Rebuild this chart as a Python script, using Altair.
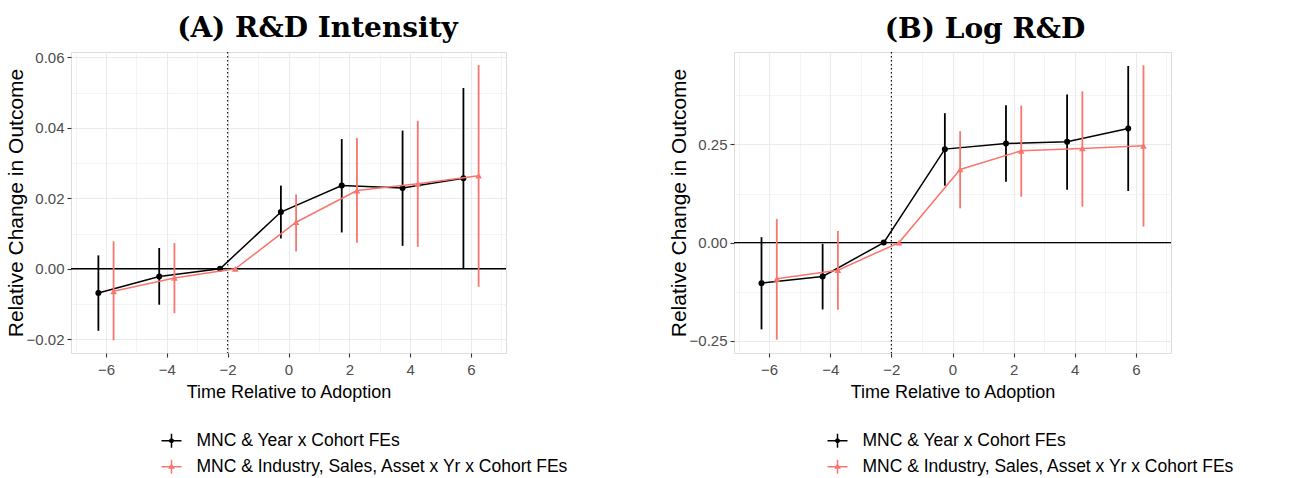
import altair as alt
import pandas as pd

# ---------------- data ----------------
times = [-6, -4, -2, 0, 2, 4, 6]
series_names = ["MNC & Year x Cohort FEs",
                "MNC & Industry, Sales, Asset x Yr x Cohort FEs"]
series_colors = ["#000000", "#F8766D"]

# Panel A: R&D Intensity
a_est_1 = [-0.0069, -0.0022, 0.0, 0.0161, 0.0236, 0.0229, 0.0257]
a_lo_1 = [-0.0176, -0.0102, 0.0, 0.0086, 0.0103, 0.0065, 0.0001]
a_hi_1 = [0.0038, 0.0059, 0.0, 0.0236, 0.0368, 0.0392, 0.0513]
a_est_2 = [-0.0064, -0.0026, 0.0, 0.0132, 0.0222, 0.0241, 0.0264]
a_lo_2 = [-0.0203, -0.0126, 0.0, 0.0049, 0.0074, 0.0062, -0.0051]
a_hi_2 = [0.0078, 0.0073, 0.0, 0.0211, 0.0371, 0.0420, 0.0578]

# Panel B: Log R&D
b_est_1 = [-0.1034, -0.0864, 0.0, 0.2381, 0.2525, 0.2568, 0.2907]
b_lo_1 = [-0.2212, -0.1703, 0.0, 0.1449, 0.1551, 0.1347, 0.1314]
b_hi_1 = [0.0136, -0.0034, 0.0, 0.3297, 0.3500, 0.3771, 0.4500]
b_est_2 = [-0.0924, -0.0703, 0.0, 0.1864, 0.2339, 0.2398, 0.2466]
b_lo_2 = [-0.2475, -0.1712, 0.0, 0.0873, 0.1169, 0.0915, 0.0407]
b_hi_2 = [0.0602, 0.0297, 0.0, 0.2839, 0.3492, 0.3856, 0.4517]

# axis ticks
x_major = [-6, -4, -2, 0, 2, 4, 6]
x_minor = [-7, -5, -3, -1, 1, 3, 5, 7]
a_y_major = [-0.02, 0.0, 0.02, 0.04, 0.06]
a_y_minor = [-0.01, 0.01, 0.03, 0.05]
b_y_major = [-0.25, 0.0, 0.25]
b_y_minor = [-0.125, 0.125, 0.375]

ref_zero = 0.0
ref_adopt = -2

# ---------------- styling ----------------
DODGE = [-0.25, 0.25]
X_DOMAIN = [-7.15, 7.15]
A_Y_DOMAIN = [-0.0239, 0.0615]
B_Y_DOMAIN = [-0.2814, 0.4856]
GRID = "#EBEBEB"
DARK = "#333333"
TICK_LABEL = "#4D4D4D"
SANS = "Liberation Sans"

SHAPE_PATHS = [
    "M-1,0L1,0M0,-0.7L0,0.7M0.17,0A0.17,0.17,0,1,1,-0.17,0A0.17,0.17,0,1,1,0.17,0Z",
    "M-1,0L1,0M0,-0.7L0,0.7M0,-0.22L0.2,0.14L-0.2,0.14Z",
]


def make_df(ests, los, his):
    rows = []
    for k, (est, lo, hi) in enumerate(zip(ests, los, his)):
        for t, e, l, h in zip(times, est, lo, hi):
            rows.append({"t": t, "x": t + DODGE[k], "est": e, "lo": l, "hi": h,
                         "series": series_names[k]})
    return pd.DataFrame(rows)


def cond(major, on, off):
    test = "indexof(%s, datum.value) >= 0" % str(list(major))
    return {"condition": {"test": test, "value": on}, "value": off}


def make_axis(major, minor, title, fmt, is_x):
    test = "indexof(%s, datum.value) >= 0" % str(list(major))
    kw = dict(
        values=sorted(list(major) + list(minor)),
        labelExpr="%s ? datum.label : ''" % test,
        format=fmt,
        title=title,
        grid=True,
        gridColor=GRID,
        gridWidth=cond(major, 1.1, 0.55),
        tickOpacity=cond(major, 1, 0),
        tickColor=DARK,
        tickSize=4,
        tickWidth=1.1,
        domain=False,
        labelOverlap=False,
        labelFlush=False,
        labelColor=TICK_LABEL,
        labelFont=SANS,
        labelFontSize=15,
        titleColor="black",
        titleFontWeight="normal",
        titleFont=SANS,
    )
    if is_x:
        kw.update(labelPadding=5, titleFontSize=18, titlePadding=6)
    else:
        kw.update(labelPadding=3, titleFontSize=21, titlePadding=0)
    return alt.Axis(**kw)


def legend(legend_x):
    return alt.Legend(title=None, orient="none",
                      legendX=legend_x, legendY=377.7,
                      symbolSize=400, symbolStrokeWidth=1.5,
                      symbolOpacity=1,
                      labelFont=SANS, labelFontSize=17.5,
                      labelColor="black", labelOffset=14,
                      rowPadding=5, padding=0, labelLimit=600)


def panel(df, title, title_dx, ydom, ymaj, ymin, width, legend_x):
    xs = alt.Scale(domain=X_DOMAIN, nice=False, zero=False)
    ys = alt.Scale(domain=ydom, nice=False, zero=False)
    xaxis = make_axis(x_major, x_minor, "Time Relative to Adoption", "d", True)
    yaxis = make_axis(ymaj, ymin, "Relative Change in Outcome", ".2f", False)

    base = alt.Chart(df)
    X = alt.X("x:Q", scale=xs, axis=xaxis)

    layers = []
    layers.append(
        alt.Chart(pd.DataFrame({"v": [ref_adopt]})).mark_rule(
            color="black", strokeWidth=1.1, strokeDash=[1.5, 2.5]
        ).encode(x=alt.X("v:Q", scale=xs, axis=xaxis))
    )
    layers.append(
        alt.Chart(pd.DataFrame({"v": [ref_zero]})).mark_rule(
            color="black", strokeWidth=1.3
        ).encode(y=alt.Y("v:Q", scale=ys, axis=yaxis))
    )
    for k, name in enumerate(series_names):
        sub = base.transform_filter(alt.datum.series == name)
        col = series_colors[k]
        layers.append(
            sub.mark_line(color=col, strokeWidth=1.5).encode(
                x=X, y=alt.Y("est:Q", scale=ys, axis=yaxis), order="x:Q")
        )
        layers.append(
            sub.mark_rule(color=col, strokeWidth=1.8).encode(
                x=X, y=alt.Y("lo:Q", scale=ys, axis=yaxis), y2="hi:Q")
        )
        layers.append(
            sub.mark_point(color=col, filled=True, opacity=1,
                           shape=["circle", "triangle-up"][k],
                           size=[36, 44][k]).encode(
                x=X, y=alt.Y("est:Q", scale=ys, axis=yaxis))
        )
    # legend carrier (invisible marks, visible legend)
    layers.append(
        base.mark_point(filled=False, opacity=0).encode(
            x=X,
            y=alt.Y("est:Q", scale=ys, axis=yaxis),
            color=alt.Color("series:N",
                            scale=alt.Scale(domain=series_names, range=series_colors),
                            legend=legend(legend_x)),
            shape=alt.Shape("series:N",
                            scale=alt.Scale(domain=series_names, range=SHAPE_PATHS),
                            legend=legend(legend_x)),
        )
    )
    return alt.layer(*layers).properties(
        width=width, height=301,
        title=alt.TitleParams(title, font="DejaVu Serif", fontWeight="bold",
                              fontSize=28, color="black", anchor="middle",
                              frame="group", dx=title_dx, offset=7),
    )


df_a = make_df([a_est_1, a_est_2], [a_lo_1, a_lo_2], [a_hi_1, a_hi_2])
df_b = make_df([b_est_1, b_est_2], [b_lo_1, b_lo_2], [b_hi_1, b_hi_2])

pa = panel(df_a, "(A) R&D Intensity", 29, A_Y_DOMAIN, a_y_major, a_y_minor, 435, 89.5)
pb = panel(df_b, "(B) Log R&D", 32.5, B_Y_DOMAIN, b_y_major, b_y_minor, 437, 92.5)

chart = alt.hconcat(pa, pb, spacing=228, bounds="flush").resolve_scale(
    color="independent", shape="independent"
).resolve_legend(
    color="independent", shape="independent"
).properties(
    padding={"left": 4, "top": 14, "right": 0, "bottom": 0}
).configure_view(stroke=DARK, strokeWidth=1.1).configure(background="white")

chart.save("out.html", embed_options={"renderer": "svg", "actions": False})
